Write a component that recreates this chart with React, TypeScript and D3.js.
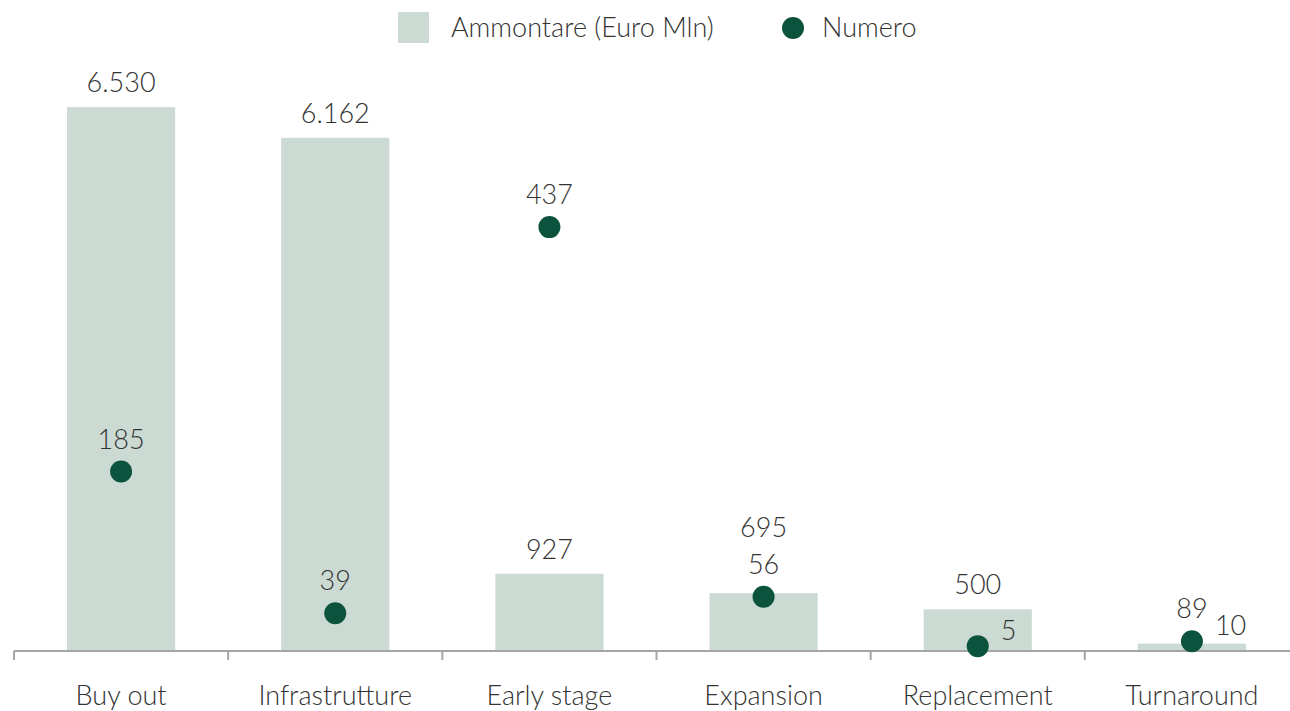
import React from "react";
import * as d3 from "d3";

// categories and series values
const categories = ["Buy out", "Infrastrutture", "Early stage", "Expansion", "Replacement", "Turnaround"];
const ammontare = [6530, 6162, 927, 695, 500, 89];
const numero = [185, 39, 437, 56, 5, 10];
const legendLabels = ["Ammontare (Euro Mln)", "Numero"];

const W = 1290;
const H = 711;
const FONT = "Lato, 'Open Sans', sans-serif";
const BAR_COLOR = "#cbdad3";
const DOT_COLOR = "#0b533d";
const TEXT_COLOR = "#333333";
const FS = 27;

const fmt = d3.formatLocale({ decimal: ",", thousands: ".", grouping: [3], currency: ["€", ""] }).format(",d");

type Box = { x0: number; x1: number; y0: number; y1: number };
const overlaps = (a: Box, b: Box) => a.x0 < b.x1 && b.x0 < a.x1 && a.y0 < b.y1 && b.y0 < a.y1;
const textBox = (cx: number, baseline: number, s: string, anchor = "middle"): Box => {
  const w = s.length * FS * 0.52;
  const x0 = anchor === "middle" ? cx - w / 2 : cx;
  return { x0, x1: x0 + w, y0: baseline - FS * 0.72, y1: baseline };
};

const App = () => {
  const baseY = 651;

  // band scale, boundaries are where the axis ticks go
  const x = d3.scaleBand<string>().domain(categories).range([14, 1299]).paddingInner(0.495).paddingOuter(0.2475);
  const step = x.step();
  const yBar = d3.scaleLinear().domain([0, 7000]).range([baseY, 68]);
  const yDot = d3.scaleLinear().domain([0, 500]).range([baseY, 166]);
  const r = 11;

  // work out label placement so labels don't collide
  const labels = categories.map((c, i) => {
    const cx = (x(c) as number) + x.bandwidth() / 2;
    const dy = yDot(numero[i]);
    const dotStr = fmt(numero[i]);
    const barStr = fmt(ammontare[i]);

    // dot label: above, unless the dot sits right on the axis
    let dotLabel = { x: cx, y: dy - 23, anchor: "middle" };
    if (baseY - dy < 20) dotLabel = { x: cx + r + 12, y: dy - 6, anchor: "start" };
    const dotBox = textBox(dotLabel.x, dotLabel.y, dotStr, dotLabel.anchor);
    const dotMark: Box = { x0: cx - r, x1: cx + r, y0: dy - r - 6, y1: dy + r };

    let barY = yBar(ammontare[i]) - 15;
    const bBox = textBox(cx, barY, barStr);
    if (overlaps(bBox, dotBox)) {
      barY = dotBox.y0 - 17;
    } else if (overlaps(bBox, dotMark)) {
      barY = dy - r - 12;
    }
    return { cx, dy, dotStr, barStr, dotLabel, barY };
  });

  const ticks = d3.range(categories.length + 1).map((i) => 14 + i * step);

  return (
    <svg width={W} height={H} style={{ position: "absolute", left: 0, top: 0, background: "#fff" }} fontFamily={FONT}>
      {/* legend */}
      <g>
        <rect x={398} y={12} width={31} height={31} fill={BAR_COLOR} />
        <text x={451} y={37} fontSize={FS} fontWeight={300} fill={TEXT_COLOR}>{legendLabels[0]}</text>
        <circle cx={793} cy={28} r={r} fill={DOT_COLOR} />
        <text x={822} y={37} fontSize={FS} fontWeight={300} fill={TEXT_COLOR}>{legendLabels[1]}</text>
      </g>

      {/* bars */}
      {categories.map((c, i) => (
        <rect
          key={c}
          x={x(c)}
          y={yBar(ammontare[i])}
          width={x.bandwidth()}
          height={baseY - yBar(ammontare[i])}
          fill={BAR_COLOR}
        />
      ))}

      {/* axis */}
      <line x1={14} x2={W} y1={baseY} y2={baseY} stroke="#a5a5a5" strokeWidth={2} />
      {ticks.map((t) => (
        <line key={t} x1={t} x2={t} y1={baseY} y2={baseY + 9} stroke="#a5a5a5" strokeWidth={2} />
      ))}
      {categories.map((c, i) => (
        <text
          key={c}
          x={labels[i].cx}
          y={705}
          textAnchor="middle"
          fontSize={FS}
          fontWeight={300}
          fill={TEXT_COLOR}
        >
          {c}
        </text>
      ))}

      {/* dots */}
      {labels.map((l, i) => (
        <circle key={categories[i]} cx={l.cx} cy={l.dy} r={r} fill={DOT_COLOR} />
      ))}

      {/* value labels */}
      {labels.map((l, i) => (
        <g key={categories[i]} fontSize={FS} fontWeight={300} fill={TEXT_COLOR}>
          <text x={l.cx} y={l.barY} textAnchor="middle">{l.barStr}</text>
          <text x={l.dotLabel.x} y={l.dotLabel.y} textAnchor={l.dotLabel.anchor as any}>{l.dotStr}</text>
        </g>
      ))}
    </svg>
  );
};

export default App;
